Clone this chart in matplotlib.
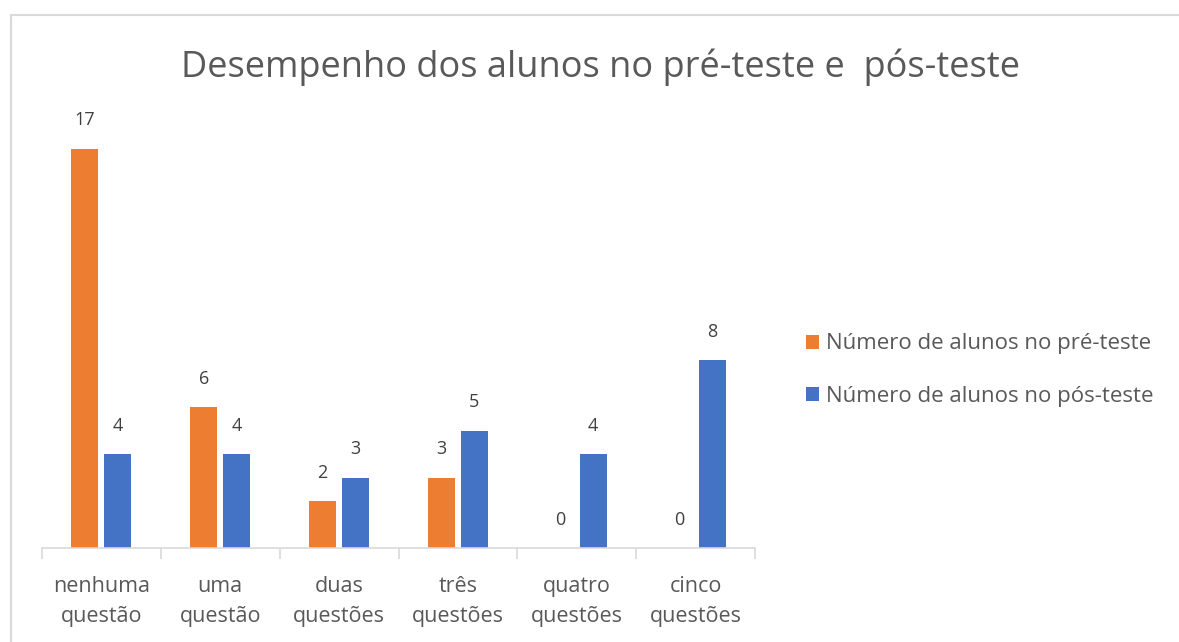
import matplotlib.pyplot as plt
from matplotlib.patches import Rectangle
import numpy as np

categorias = ["nenhuma\nquestão", "uma\nquestão", "duas\nquestões",
              "três\nquestões", "quatro\nquestões", "cinco\nquestões"]
pre_teste = [17, 6, 2, 3, 0, 0]
pos_teste = [4, 4, 3, 5, 4, 8]
legendas = ["Número de alunos no pré-teste", "Número de alunos no pós-teste"]
titulo = "Desempenho dos alunos no pré-teste e  pós-teste"

plt.rcParams['font.family'] = ['Open Sans', 'DejaVu Sans']

W, H = 1179, 642
fig = plt.figure(figsize=(W / 100, H / 100), dpi=100)

# moldura do grafico (so esquerda e topo aparecem)
fig.patches.append(Rectangle((11 / W, -0.1), 1.2, 1 - 15 / H + 0.1,
                             transform=fig.transFigure, fill=False,
                             edgecolor='#d9d9d9', linewidth=1.5))

ax = fig.add_axes([42 / W, 1 - 548 / H, 713 / W, 470 / H])
x = np.arange(len(categorias))
larg = 0.227
desl = 0.139
b1 = ax.bar(x - desl, pre_teste, larg, color='#ed7d31', label=legendas[0])
b2 = ax.bar(x + desl, pos_teste, larg, color='#4472c4', label=legendas[1])

for barras in (b1, b2):
    ax.bar_label(barras, padding=14, fontsize=13, color='#404040')

ax.set_xlim(-0.5, len(categorias) - 0.5)
ax.set_ylim(0, 20)
for s in ['top', 'right', 'left']:
    ax.spines[s].set_visible(False)
ax.spines['bottom'].set_color('#d9d9d9')
ax.spines['bottom'].set_linewidth(1.2)
ax.set_yticks([])
ax.set_xticks(np.arange(len(categorias) + 1) - 0.5)
ax.set_xticklabels([])
ax.tick_params(axis='x', length=8, color='#d9d9d9', width=1.2)
ax.set_xticks(x, minor=True)
ax.set_xticklabels(categorias, minor=True, fontsize=15.5, color='#595959',
                   linespacing=1.6)
ax.tick_params(axis='x', which='minor', length=0, pad=20)

fig.text(601 / W, 1 - 67 / H, titulo, ha='center', va='center',
         fontsize=26, color='#595959')

fig.legend(handles=[b1, b2], loc='center left',
           bbox_to_anchor=(786 / W, 1 - 370 / H), frameon=False,
           fontsize=16, labelcolor='#595959', handlelength=0.6,
           handleheight=0.6, handletextpad=0.3, labelspacing=1.4)

fig.savefig("out.png", dpi=100, facecolor='white')
